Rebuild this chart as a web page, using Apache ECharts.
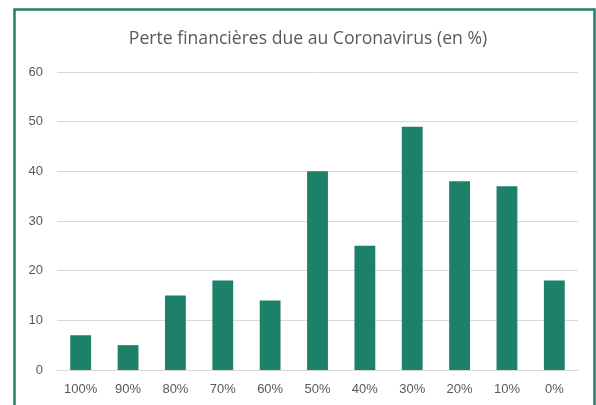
<!DOCTYPE html>
<html><head><meta charset="utf-8">
<script src="https://cdn.jsdelivr.net/npm/echarts@6/dist/echarts.min.js"></script>
<style>html,body{margin:0;padding:0;background:#fff}#c{width:596px;height:405px}</style>
</head><body><div id="c"></div>
<script>
const categories = ['100%','90%','80%','70%','60%','50%','40%','30%','20%','10%','0%'];
const values = [7,5,15,18,14,40,25,49,38,37,18];
const yTicks = {min:0,max:60,interval:10};
const titleText = 'Perte financières due au Coronavirus (en %)';

const chart = echarts.init(document.getElementById('c'), null, {renderer:'canvas'});
chart.setOption({
  animation:false,
  backgroundColor:'#fff',
  textStyle:{fontFamily:'Liberation Sans'},
  graphic:[{type:'rect',shape:{x:14.5,y:9.5,width:580,height:420},style:{fill:'none',stroke:'#1f7f68',lineWidth:2.5},z:-1}],
  title:{text:titleText,left:303,textAlign:'center',top:25,textStyle:{fontSize:17.6,fontWeight:'normal',color:'#595959',fontFamily:'Open Sans'}},
  grid:{left:57,right:18,top:72,bottom:35,containLabel:false},
  xAxis:{type:'category',data:categories,axisTick:{show:false},axisLine:{lineStyle:{color:'#d9d9d9',width:1}},
    axisLabel:{color:'#595959',fontSize:13,margin:13}},
  yAxis:{type:'value',min:yTicks.min,max:yTicks.max,interval:yTicks.interval,axisLine:{show:false},axisTick:{show:false},
    axisLabel:{color:'#595959',fontSize:13,margin:14},splitLine:{lineStyle:{color:'#d9d9d9',width:1}}},
  series:[{type:'bar',data:values,barWidth:'44%',itemStyle:{color:'#1d8068'}}]
});
</script></body></html>
